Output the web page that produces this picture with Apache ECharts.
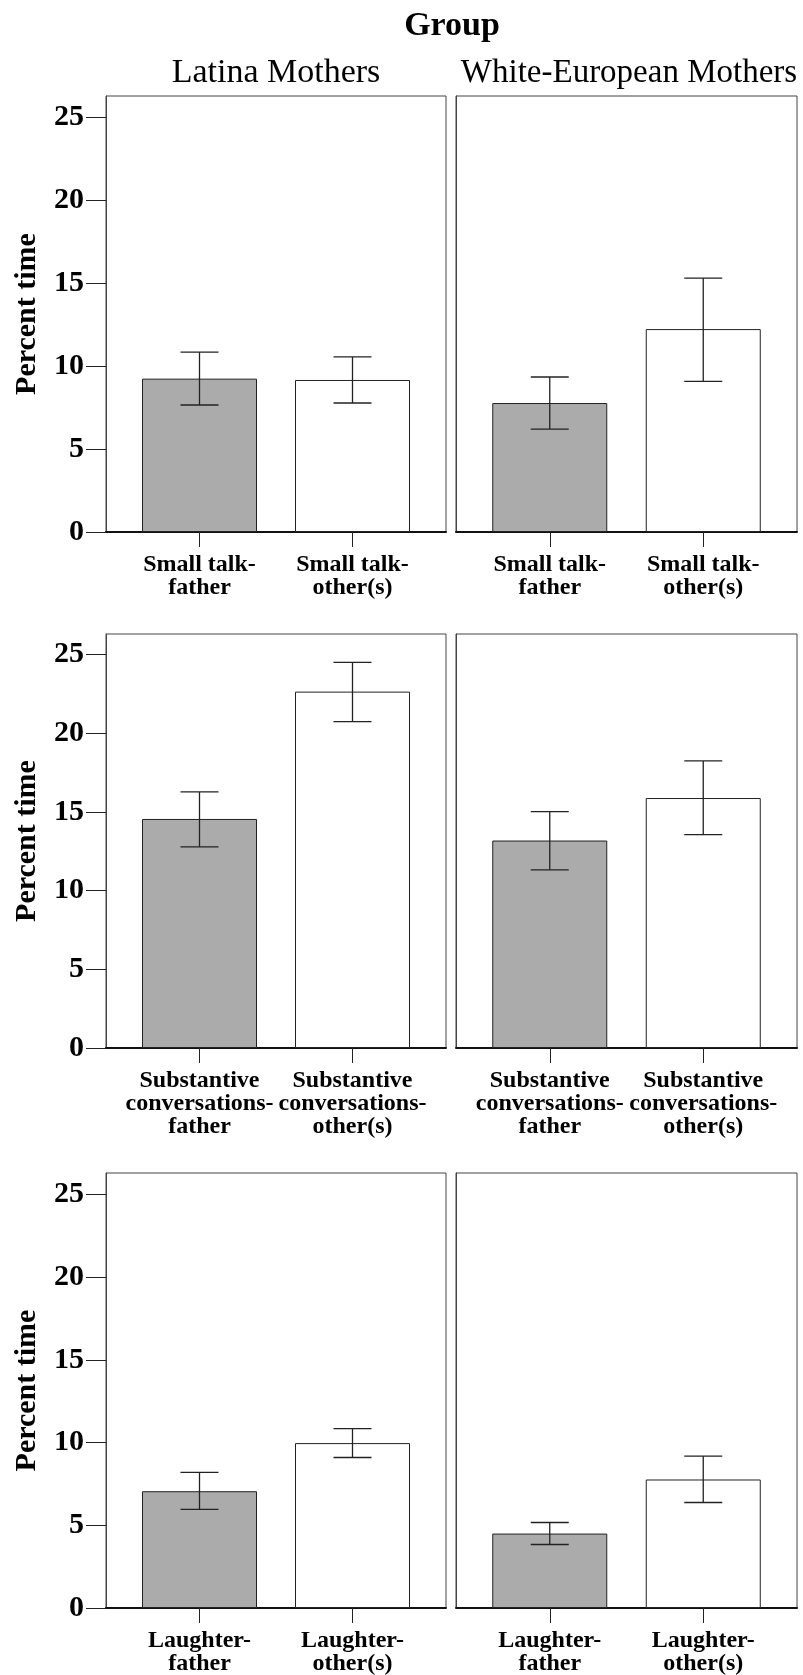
<!DOCTYPE html>
<html>
<head>
	<meta charset="utf-8" />
	<title>Percent time by group</title>
	<script src="https://cdn.jsdelivr.net/npm/echarts@6/dist/echarts.min.js"></script>
	<style>
		body { margin: 0; background: #fff; }
		#main { width: 803px; height: 1675px; }
	</style>
</head>
<body>
	<div id="main"></div>
	<script type="text/javascript">
		// data
		var groups = ['Latina Mothers', 'White-European Mothers'];
		var rowLabels = [
			['Small talk-\nfather', 'Small talk-\nother(s)'],
			['Substantive\nconversations-\nfather', 'Substantive\nconversations-\nother(s)'],
			['Laughter-\nfather', 'Laughter-\nother(s)']
		];
		var yTicks = [0, 5, 10, 15, 20, 25];
		var yMax = 26.3;

		// [father, other(s)] for each row
		var latinaMean = [[9.25, 9.17], [14.55, 22.64], [7.06, 9.97]];
		var latinaLow = [[7.66, 7.78], [12.78, 20.73], [5.96, 9.10]];
		var latinaHigh = [[10.85, 10.56], [16.27, 24.50], [8.20, 10.84]];
		var whiteMean = [[7.78, 12.24], [13.18, 15.88], [4.50, 7.77]];
		var whiteLow = [[6.21, 9.09], [11.32, 13.55], [3.84, 6.38]];
		var whiteHigh = [[9.35, 15.32], [15.01, 18.24], [5.17, 9.18]];

		var fillColors = ['#ababab', '#ffffff'];
		var serif = 'Liberation Serif';

		// panel boxes
		var cols = [{ left: 106, width: 340 }, { left: 456, width: 341 }];
		var rows = [{ top: 96, height: 436 }, { top: 634, height: 414 }, { top: 1173, height: 435 }];
		var inset = 17;

		var grid = [], xAxis = [], yAxis = [], series = [];

		for (var r = 0; r < rows.length; r++) {
			for (var c = 0; c < cols.length; c++) {
				var mean = c == 0 ? latinaMean : whiteMean;
				var low = c == 0 ? latinaLow : whiteLow;
				var high = c == 0 ? latinaHigh : whiteHigh;
				var outer = grid.length;
				var inner = outer + 1;

				// frame with the y axis
				grid.push({
					left: cols[c].left, top: rows[r].top,
					width: cols[c].width, height: rows[r].height,
					show: true, borderColor: '#444', borderWidth: 1,
					backgroundColor: 'transparent', outerBoundsMode: 'none'
				});
				// inner grid holding the bars
				grid.push({
					left: cols[c].left + inset, top: rows[r].top,
					width: cols[c].width - 2 * inset, height: rows[r].height,
					outerBoundsMode: 'none'
				});

				xAxis.push({
					gridIndex: outer, type: 'value', min: 0, max: 1,
					axisLine: { show: true, lineStyle: { color: '#111', width: 2 } },
					axisTick: { show: false }, axisLabel: { show: false }, splitLine: { show: false }
				});
				yAxis.push({
					gridIndex: outer, type: 'value', min: 0, max: yMax,
					axisLine: { show: true, lineStyle: { color: '#444', width: 1 } },
					axisTick: { show: c == 0, length: 20, customValues: yTicks, lineStyle: { color: '#222', width: 1 } },
					axisLabel: {
						show: c == 0, customValues: yTicks, margin: 22,
						color: '#000', fontSize: 30, fontWeight: 'bold', fontFamily: serif
					},
					splitLine: { show: false },
					name: c == 0 ? 'Percent time' : '',
					nameLocation: 'middle', nameRotate: 90, nameGap: 64,
					nameTextStyle: { color: '#000', fontSize: 30, fontWeight: 'bold', fontFamily: serif }
				});

				xAxis.push({
					gridIndex: inner, type: 'category', data: rowLabels[r], boundaryGap: true,
					axisLine: { show: false },
					axisTick: { show: true, alignWithLabel: true, length: 15, lineStyle: { color: '#222', width: 1 } },
					axisLabel: {
						interval: 0, margin: 21, color: '#000', fontSize: 24, lineHeight: 23,
						fontWeight: 'bold', fontFamily: serif
					},
					splitLine: { show: false }
				});
				yAxis.push({ gridIndex: inner, type: 'value', min: 0, max: yMax, show: false });

				series.push({
					type: 'bar', xAxisIndex: inner, yAxisIndex: inner,
					barWidth: 115,
					data: mean[r].map(function(v, i) {
						return { value: v, itemStyle: { color: fillColors[i] } };
					}),
					itemStyle: { borderColor: '#222', borderWidth: 1 }
				});

				series.push({
					type: 'custom', xAxisIndex: inner, yAxisIndex: inner, z: 3,
					data: mean[r].map(function(v, i) { return [i, low[r][i], high[r][i]]; }),
					renderItem: function(params, api) {
						var lo = api.coord([api.value(0), api.value(1)]);
						var hi = api.coord([api.value(0), api.value(2)]);
						var half = 19;
						var st = { stroke: '#222', lineWidth: 1.3 };
						return {
							type: 'group',
							children: [
								{ type: 'line', shape: { x1: lo[0], y1: lo[1], x2: hi[0], y2: hi[1] }, style: st },
								{ type: 'line', shape: { x1: hi[0] - half, y1: hi[1], x2: hi[0] + half, y2: hi[1] }, style: st },
								{ type: 'line', shape: { x1: lo[0] - half, y1: lo[1], x2: lo[0] + half, y2: lo[1] }, style: st }
							]
						};
					}
				});
			}
		}

		var option = {
			animation: false,
			backgroundColor: '#fff',
			textStyle: { fontFamily: serif },
			grid: grid,
			xAxis: xAxis,
			yAxis: yAxis,
			series: series,
			graphic: [
				{
					type: 'text', x: 452, y: 26,
					style: { text: 'Group', font: 'bold 34px ' + serif, fill: '#000', textAlign: 'center', textVerticalAlign: 'middle' }
				},
				{
					type: 'text', x: 276, y: 73,
					style: { text: groups[0], font: '34px ' + serif, fill: '#000', textAlign: 'center', textVerticalAlign: 'middle' }
				},
				{
					type: 'text', x: 629, y: 73,
					style: { text: groups[1], font: '33px ' + serif, fill: '#000', textAlign: 'center', textVerticalAlign: 'middle' }
				}
			]
		};

		var myChart = echarts.init(document.getElementById('main'));
		myChart.setOption(option);
	</script>
</body>
</html>
